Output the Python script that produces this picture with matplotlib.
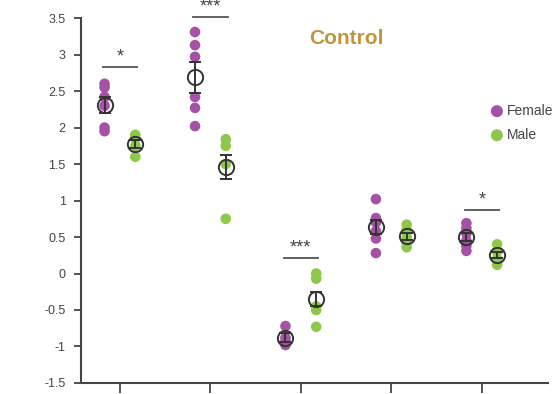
import numpy as np
import matplotlib.pyplot as plt

plt.rcParams['font.family'] = ['Liberation Sans', 'DejaVu Sans']

# Data per group (female / male individual points)
groups = [1, 2, 3, 4, 5]
female = [
    [2.60, 2.55, 2.42, 2.30, 2.00, 1.95],
    [3.31, 3.13, 2.97, 2.42, 2.27, 2.02],
    [-0.72, -0.88, -0.93, -0.98],
    [1.02, 0.76, 0.70, 0.58, 0.48, 0.28],
    [0.69, 0.62, 0.55, 0.45, 0.38, 0.31],
]
male = [
    [1.90, 1.85, 1.75, 1.60],
    [1.84, 1.75, 1.50, 0.75],
    [0.00, -0.07, -0.45, -0.50, -0.73],
    [0.67, 0.60, 0.50, 0.42, 0.36],
    [0.40, 0.30, 0.20, 0.12],
]
female_err = [0.11, 0.21, 0.06, 0.10, 0.05]
male_err = [0.06, 0.16, 0.10, 0.05, 0.04]

# significance annotations: (group, bar height, label)
sig = [(1, 2.83, '*'), (2, 3.51, '***'), (3, 0.21, '***'), (5, 0.87, '*')]

legend_labels = ['Female', 'Male']

purple = '#A552A5'
green = '#8DC84A'
off = 0.17

fig = plt.figure(figsize=(5.55, 3.94), dpi=100)
ax = fig.add_axes([0.146, 0.028, 0.841, 0.926])

for g, f, m, fe, me in zip(groups, female, male, female_err, male_err):
    ax.scatter([g - off] * len(f), f, s=58, color=purple, edgecolors='none', zorder=2)
    ax.scatter([g + off] * len(m), m, s=58, color=green, edgecolors='none', zorder=2)
    for x, vals, err in [(g - off, f, fe), (g + off, m, me)]:
        ax.errorbar(x, np.mean(vals), yerr=err, fmt='o', ms=11, mfc='none',
                    mec='#333333', mew=1.4, ecolor='#333333', elinewidth=1.4,
                    capsize=4, capthick=1.4, zorder=3)

for g, h, lab in sig:
    ax.plot([g - off - 0.02, g + off + 0.02], [h, h], color='#555555', lw=1.3,
            clip_on=False)
    ax.text(g, h + 0.02, lab, ha='center', va='bottom', fontsize=13,
            color='#444444', clip_on=False)

ax.text(3.5, 3.22, 'Control', ha='center', va='center', fontsize=15,
        fontweight='bold', color='#C0963C')

# legend drawn by hand so it sits like the reference
for (lab, col, yy) in zip(legend_labels, [purple, green], [0.745, 0.679]):
    ax.scatter([0.891], [yy], s=75, color=col, edgecolors='none',
               transform=ax.transAxes, clip_on=False)
    ax.text(0.913, yy, lab, transform=ax.transAxes, ha='left', va='center',
            fontsize=10, color='#444444')

ax.set_xlim(0.57, 5.73)
ax.set_ylim(-1.5, 3.5)
ax.set_xticks(groups)
ax.set_xticklabels([])
ax.set_yticks(np.arange(-1.5, 3.51, 0.5))
ax.set_yticklabels(['-1.5', '-1', '-0.5', '0', '0.5', '1', '1.5', '2', '2.5', '3', '3.5'])
ax.tick_params(axis='y', length=5, width=1.3, color='#444444', labelsize=9,
               labelcolor='#444444', pad=6)
ax.tick_params(axis='x', length=7, width=1.3, color='#444444')
for s in ['top', 'right']:
    ax.spines[s].set_visible(False)
for s in ['left', 'bottom']:
    ax.spines[s].set_color('#444444')
    ax.spines[s].set_linewidth(1.5)

fig.savefig('out.png', dpi=100)
